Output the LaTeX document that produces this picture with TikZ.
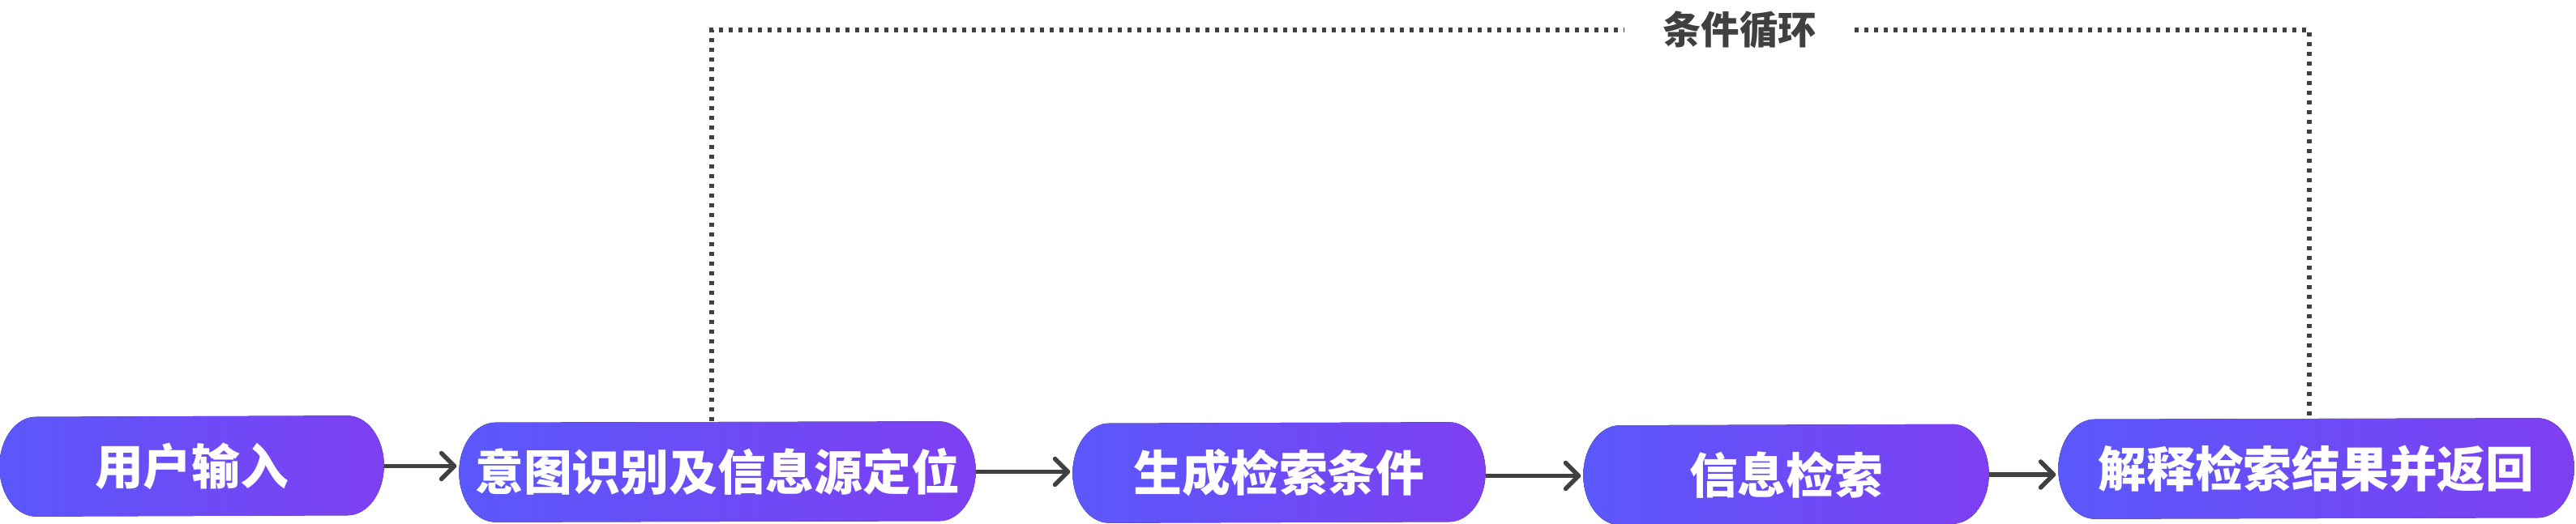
\documentclass[tikz,border=0pt]{standalone}
\usepackage{fontspec}
\newfontfamily\cjk{Noto Sans CJK SC}
\usepackage{tikz}
\usetikzlibrary{calc, arrows.meta, backgrounds}
\definecolor{xblue}{HTML}{5A58FB}
\definecolor{xviolet}{HTML}{7E3FF2}
\definecolor{xgray}{HTML}{404040}
\newcommand\boxfont{\cjk\bfseries\fontsize{17}{20}\selectfont}
\newcommand\loopfont{\cjk\bfseries\fontsize{13.5}{16}\selectfont}
\tikzset{
	stepbox/.style = {text=white, font=\boxfont, inner sep=0pt, minimum height=1.23cm, minimum width=#1},
	pill/.style = {left color=xblue, right color=xviolet},
	flow/.style = {xgray, line width=0.055cm, -{Straight Barb[length=0.16cm, width=0.32cm, round]}, shorten >=0.03cm},
	loopline/.style = {xgray, line width=0.055cm, dash pattern=on 0.05cm off 0.07cm},
}

\begin{document}
\begin{tikzpicture}
			\useasboundingbox (0,0) rectangle (31.78,6.46);
			\node[stepbox=4.73cm] (input)   at (2.365,0.705)  {用户输入};
			\node[stepbox=6.36cm] (intent)  at (8.85,0.635)   {意图识别及信息源定位};
			\node[stepbox=5.08cm] (cond)    at (15.78,0.625)  {生成检索条件};
			\node[stepbox=4.99cm] (search)  at (22.035,0.60)  {信息检索};
			\node[stepbox=6.35cm] (explain) at (28.575,0.675) {解释检索结果并返回};
			\begin{scope}[on background layer]
				\foreach \n in {input, intent, cond, search, explain}
					\fill[pill] ($(\n.north east)-(0.45,0)$) arc[start angle=90, end angle=-90, x radius=0.45, y radius=0.615]
						-- ($(\n.south west)+(0.45,0)$) arc[start angle=270, end angle=90, x radius=0.45, y radius=0.615] -- cycle;
			\end{scope}
			\draw[flow] (input.east)  -- (input.east -| intent.west);
			\draw[flow] (intent.east) -- (intent.east -| cond.west);
			\draw[flow] ([yshift=-0.04cm]cond.east) -- ([yshift=-0.04cm]cond.east -| search.west);
			\draw[flow] (search.east) -- (search.east -| explain.west);
			% condition loop over the top
			\node[text=xgray, font=\loopfont, inner xsep=0.46cm, inner ysep=0pt] (looplab) at (21.46,6.09) {条件循环};
			\draw[loopline] ([xshift=-0.07cm]intent.north) |- (looplab);
			\draw[loopline] (looplab) -| ([xshift=-0.085cm]explain.north);
		\end{tikzpicture}
\end{document}
